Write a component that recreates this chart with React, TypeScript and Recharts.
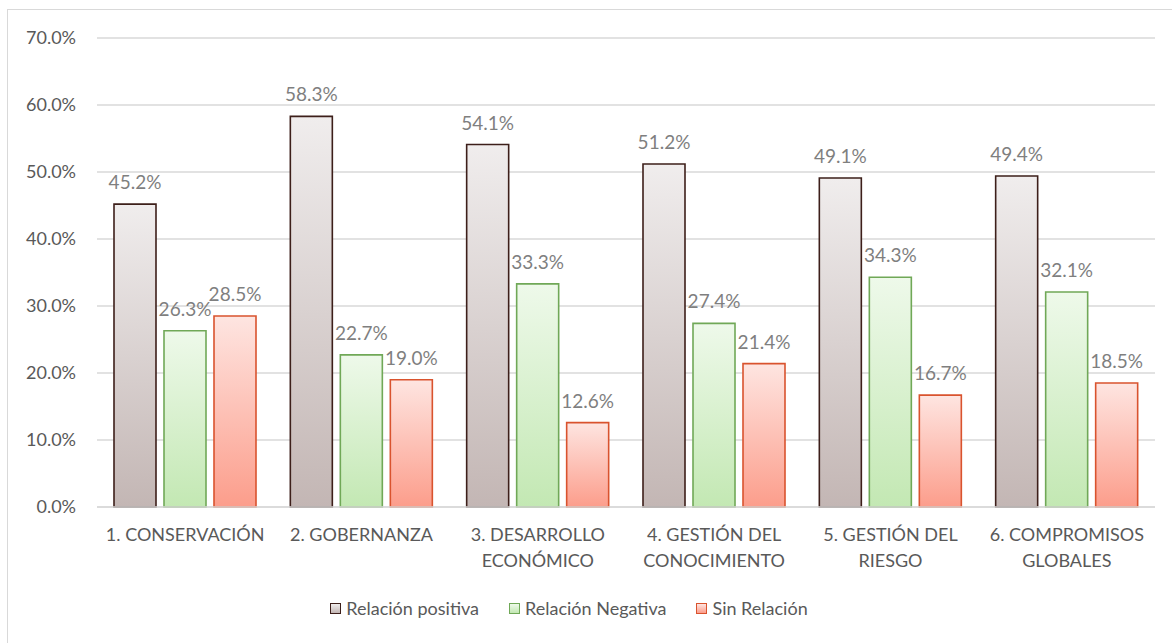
import { BarChart, Bar, XAxis, YAxis, CartesianGrid, Legend, LabelList } from 'recharts'

const categories = [
  '1. CONSERVACIÓN',
  '2. GOBERNANZA',
  '3. DESARROLLO ECONÓMICO',
  '4. GESTIÓN DEL CONOCIMIENTO',
  '5. GESTIÓN DEL RIESGO',
  '6. COMPROMISOS GLOBALES',
]
const positiva = [45.2, 58.3, 54.1, 51.2, 49.1, 49.4]
const negativa = [26.3, 22.7, 33.3, 27.4, 34.3, 32.1]
const sinRelacion = [28.5, 19.0, 12.6, 21.4, 16.7, 18.5]
const yTicks = [0, 10, 20, 30, 40, 50, 60, 70]

const series = [
  { key: 'pos', name: 'Relación positiva', stroke: '#3d1f1a', top: '#f0eded', bottom: '#c3b6b4' },
  { key: 'neg', name: 'Relación Negativa', stroke: '#70a857', top: '#eef9ea', bottom: '#c3e8b3' },
  { key: 'sin', name: 'Sin Relación', stroke: '#d9532e', top: '#fee5e1', bottom: '#fc9d8b' },
]

const data = categories.map((c, i) => ({
  name: c,
  pos: positiva[i],
  neg: negativa[i],
  sin: sinRelacion[i],
}))

const FONT = 'Lato, "Open Sans", sans-serif'
const AXIS_COLOR = '#595959'

function splitLabel(s: string) {
  const words = s.split(' ')
  if (words.length <= 2) return [s]
  const i = s.lastIndexOf(' ')
  return [s.slice(0, i), s.slice(i + 1)]
}

function CategoryTick({ x, y, payload }: any) {
  const lines = splitLabel(payload.value)
  return (
    <g>
      {lines.map((l, i) => (
        <text
          key={i}
          x={x}
          y={y + 19 + i * 26}
          textAnchor="middle"
          dominantBaseline="central"
          fill={AXIS_COLOR}
          fontSize={18}
          fontFamily={FONT}
        >
          {l}
        </text>
      ))}
    </g>
  )
}

function LegendContent() {
  return (
    <div
      style={{
        display: 'flex',
        justifyContent: 'center',
        alignItems: 'center',
        paddingTop: 19,
        paddingRight: 34,
        height: 24,
        fontFamily: FONT,
        fontSize: 18,
        color: AXIS_COLOR,
      }}
    >
      {series.map(s => (
        <div key={s.key} style={{ display: 'flex', alignItems: 'center', margin: '0 15px' }}>
          <span
            style={{
              display: 'inline-block',
              width: 9,
              height: 9,
              border: `1.5px solid ${s.stroke}`,
              background: `linear-gradient(${s.top}, ${s.bottom})`,
              marginRight: 5,
            }}
          />
          {s.name}
        </div>
      ))}
    </div>
  )
}

export default function App() {
  return (
    <div style={{ position: 'absolute', left: 0, top: 0, width: 1172, height: 643, background: '#fff', overflow: 'hidden' }}>
      <div
        style={{
          position: 'absolute',
          left: 7,
          top: 9,
          width: 1164,
          height: 640,
          border: '1px solid #d9d9d9',
        }}
      />
      <div style={{ position: 'absolute', left: 0, top: 0 }}>
        <BarChart
          width={1172}
          height={643}
          data={data}
          margin={{ top: 38, right: 17, left: 0, bottom: 20 }}
          barCategoryGap={17}
          barGap={8}
        >
          <defs>
            {series.map(s => (
              <linearGradient key={s.key} id={`g-${s.key}`} x1="0" y1="0" x2="0" y2="1">
                <stop offset="0%" stopColor={s.top} />
                <stop offset="100%" stopColor={s.bottom} />
              </linearGradient>
            ))}
          </defs>
          <CartesianGrid vertical={false} stroke="#d9d9d9" strokeWidth={1.3} />
          <XAxis
            dataKey="name"
            height={70}
            tick={<CategoryTick />}
            tickLine={false}
            axisLine={{ stroke: '#d9d9d9', strokeWidth: 1.3 }}
            interval={0}
          />
          <YAxis
            width={97}
            domain={[0, 70]}
            ticks={yTicks}
            tickFormatter={v => `${v.toFixed(1)}%`}
            tick={{ fill: AXIS_COLOR, fontSize: 18, fontFamily: FONT }}
            tickLine={false}
            axisLine={false}
            tickMargin={15}
          />
          <Legend verticalAlign="bottom" content={<LegendContent />} wrapperStyle={{ height: 46, left: 0, width: 1172 }} />
          {series.map(s => (
            <Bar
              key={s.key}
              dataKey={s.key}
              name={s.name}
              fill={`url(#g-${s.key})`}
              stroke={s.stroke}
              strokeWidth={1.6}
              isAnimationActive={false}
            >
              <LabelList
                dataKey={s.key}
                position="top"
                offset={15}
                formatter={(v: any) => `${Number(v).toFixed(1)}%`}
                fill="#7f7f7f"
                fontSize={19}
                fontFamily={FONT}
              />
            </Bar>
          ))}
        </BarChart>
      </div>
    </div>
  )
}
